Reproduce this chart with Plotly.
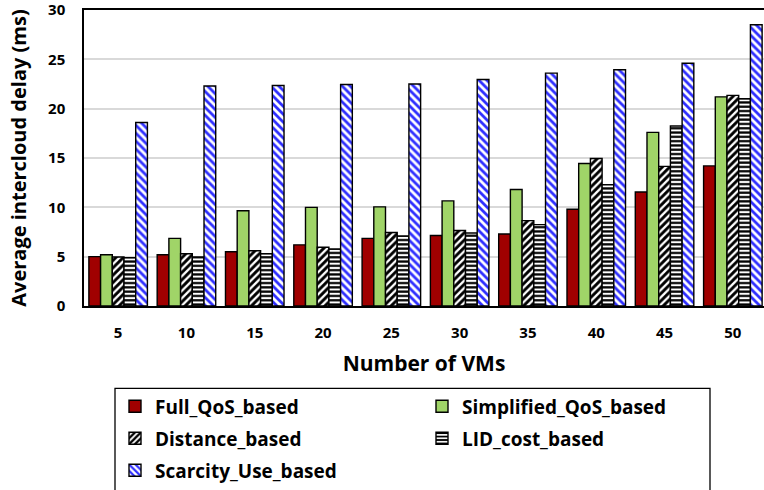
import plotly.graph_objects as go

categories = ["5", "10", "15", "20", "25", "30", "35", "40", "45", "50"]
full_qos = [5.0, 5.2, 5.5, 6.2, 6.85, 7.15, 7.3, 9.8, 11.55, 14.2]
simplified_qos = [5.2, 6.85, 9.65, 10.0, 10.05, 10.65, 11.8, 14.45, 17.6, 21.2]
distance = [4.97, 5.3, 5.6, 5.95, 7.45, 7.65, 8.65, 14.95, 14.15, 21.35]
lid_cost = [4.9, 4.97, 5.3, 5.78, 7.1, 7.4, 8.25, 12.3, 18.25, 21.0]
scarcity = [18.6, 22.3, 22.35, 22.45, 22.5, 22.95, 23.6, 23.95, 24.6, 28.5]

FONT = "Open Sans"
line = dict(color="black", width=1.4)

fig = go.Figure()
fig.add_trace(go.Bar(x=categories, y=full_qos, name="Full_QoS_based",
                     marker=dict(color="#a00000", line=line), legend="legend"))
fig.add_trace(go.Bar(x=categories, y=simplified_qos, name="Simplified_QoS_based",
                     marker=dict(color="#a0d468", line=line), legend="legend"))
fig.add_trace(go.Bar(x=categories, y=distance, name="Distance_based",
                     marker=dict(color="white", line=line,
                                 pattern=dict(shape="/", fgcolor="black", bgcolor="white",
                                              fgopacity=1, size=5.2, solidity=0.55)),
                     legend="legend2"))
fig.add_trace(go.Bar(x=categories, y=lid_cost, name="LID_cost_based",
                     marker=dict(color="white", line=line,
                                 pattern=dict(shape="-", fgcolor="black", bgcolor="white",
                                              fgopacity=1, size=4.3, solidity=0.52)),
                     legend="legend2"))
fig.add_trace(go.Bar(x=categories, y=scarcity, name="Scarcity_Use_based",
                     marker=dict(color="white", line=line,
                                 pattern=dict(shape="\\", fgcolor="#2f2fff", bgcolor="white",
                                              fgopacity=1, size=5.6, solidity=0.5)),
                     legend="legend3"))

plot_top = 10
plot_bottom = 305.7
ph = plot_bottom - plot_top

def ypaper(px):
    return (plot_bottom - px) / ph

leg_common = dict(orientation="h", xanchor="left", yanchor="middle",
                  x=(115 - 84) / 680, entrywidth=262, entrywidthmode="pixels",
                  font=dict(family=FONT, size=19, color="black", weight="bold"),
                  bgcolor="rgba(0,0,0,0)", borderwidth=0, traceorder="normal")

fig.update_layout(
    width=764, height=490,
    margin=dict(l=84, r=0, t=plot_top, b=490 - plot_bottom, autoexpand=False),
    paper_bgcolor="white", plot_bgcolor="white",
    barmode="group", bargap=0.143, bargroupgap=0,
    font=dict(family=FONT, color="black"),
    legend=dict(leg_common, y=ypaper(406)),
    legend2=dict(leg_common, y=ypaper(438)),
    legend3=dict(leg_common, y=ypaper(470)),
    xaxis=dict(type="category", range=[-0.5, 9.456], showline=True, linecolor="black",
               linewidth=1.5, mirror=True, showgrid=False, ticks="",
               tickfont=dict(family=FONT, size=15, color="black", weight="bold"),
               ticklabelstandoff=12, automargin=False,
               title=dict(text="Number of VMs", standoff=16,
                          font=dict(family=FONT, size=21, color="black", weight="bold"))),
    yaxis=dict(range=[0, 30], dtick=5, showline=True, linecolor="black", linewidth=1.5,
               mirror=False, showgrid=True, gridcolor="#d9d9d9", gridwidth=1.5,
               zeroline=False, ticks="", ticklabeloverflow="allow",
               tickfont=dict(family=FONT, size=15, color="black", weight="bold"),
               ticklabelstandoff=14, automargin=False,
               title=dict(text="Average intercloud delay (ms)", standoff=16,
                          font=dict(family=FONT, size=20, color="black", weight="bold"))),
    showlegend=True,
)

fig.add_shape(type="rect", xref="paper", yref="paper",
              x0=(115 - 84) / 680, x1=(710 - 84) / 680,
              y0=ypaper(500), y1=ypaper(388),
              line=dict(color="black", width=1.3), fillcolor="rgba(0,0,0,0)")

fig.write_html("out.html", config={"displayModeBar": False},
               post_script="document.body.style.margin='0';document.body.style.overflow='hidden';")
